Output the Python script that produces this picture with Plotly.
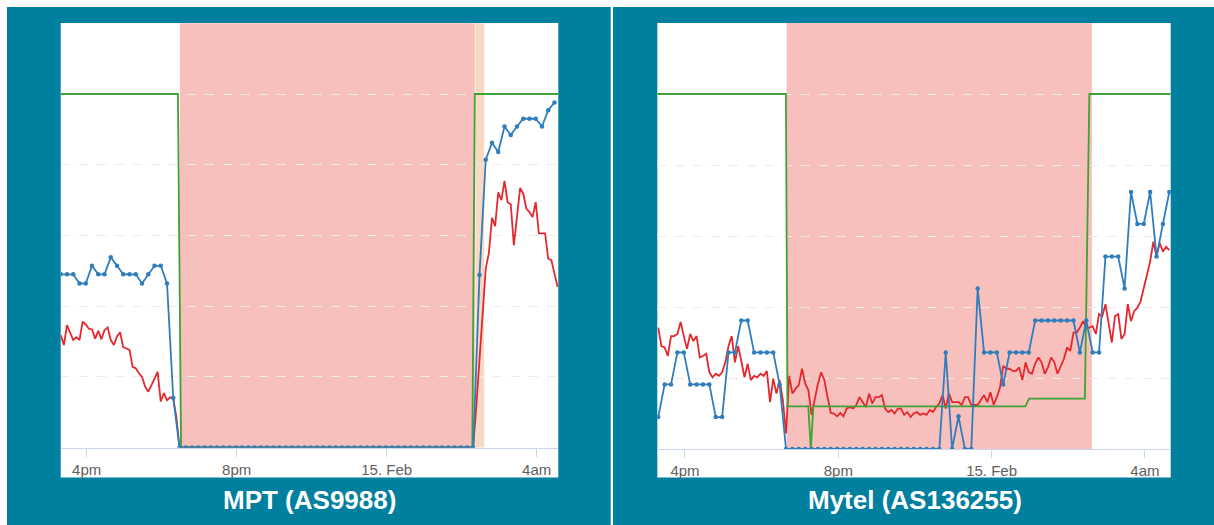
import plotly.graph_objects as go
import pandas as pd

W, H = 1214, 525

# ---------------- data ----------------
panel_titles = ["MPT (AS9988)", "Mytel (AS136255)"]
tick_times = ["2021-02-14 16:00", "2021-02-14 20:00", "2021-02-15 00:00", "2021-02-15 04:00"]
tick_labels = ["4pm", "8pm", "15. Feb", "4am"]

# --- MPT (AS9988) ---
mpt_range = ["2021-02-14 15:18:24", "2021-02-15 04:34:36"]
mpt_start = "2021-02-14 15:18:30"
mpt_probing = ([2.45, 2.45, 2.45, 2.32, 2.32, 2.57, 2.45, 2.45, 2.69, 2.57,
                2.45, 2.45, 2.45, 2.32, 2.45, 2.57, 2.57, 2.32, 0.70]
               + [0.0] * 48
               + [2.44, 4.07, 4.31, 4.18, 4.54, 4.42, 4.54, 4.65, 4.65, 4.65,
                  4.54, 4.77, 4.88])
mpt_darknet = ([1.59, 1.45, 1.73, 1.61, 1.52, 1.56, 1.52, 1.78, 1.74, 1.68,
                1.67, 1.54, 1.65, 1.53, 1.66, 1.70, 1.52, 1.45, 1.57, 1.63,
                1.42, 1.40, 1.38, 1.14, 1.12, 1.05, 1.00, 0.86, 0.79, 0.88,
                0.98, 1.07, 0.65, 0.77, 0.67, 0.71, 0.69, 0.43, 0.0]
               + [0.0] * 94
               + [0.60, 1.24, 1.85, 2.53, 2.75, 3.25, 3.13, 3.61, 3.50, 3.77,
                  3.47, 3.44, 2.86, 3.31, 3.67, 3.59, 3.38, 3.33, 3.26, 3.47,
                  3.03, 3.03, 3.03, 2.67, 2.65, 2.46, 2.27])
mpt_bgp_times = ["2021-02-14 15:18:24", "2021-02-14 18:26:00", "2021-02-14 18:31:00",
                 "2021-02-15 02:17:00", "2021-02-15 02:21:00", "2021-02-15 04:34:36"]
mpt_bgp = [5, 5, 0, 0, 5, 5]
mpt_outage = ["2021-02-14 18:29", "2021-02-15 02:21"]
mpt_warning = ["2021-02-15 02:22", "2021-02-15 02:36"]

# --- Mytel (AS136255) ---
mytel_range = ["2021-02-14 15:16:40", "2021-02-15 04:40:20"]
mytel_start = "2021-02-14 15:18:10"
mytel_probing = ([0.45, 0.91, 0.91, 1.36, 1.36, 0.91, 0.91, 0.91, 0.91, 0.45,
                  0.45, 1.36, 1.36, 1.81, 1.81, 1.36, 1.36, 1.36, 1.36, 0.91]
                 + [0.0] * 25
                 + [1.36, 0.0, 0.46, 0.0, 0.0, 2.26, 1.36, 1.36, 1.36, 0.91,
                    1.36, 1.36, 1.36, 1.36, 1.81, 1.81, 1.81, 1.81, 1.81, 1.81,
                    1.81, 1.36, 1.81, 1.36, 1.36, 2.71, 2.71, 2.71, 2.26, 3.62,
                    3.17, 3.17, 3.62, 2.71, 3.17, 3.62])
mytel_darknet = [1.71, 1.45, 1.43, 1.31, 1.59, 1.59, 1.62, 1.79, 1.59, 1.41,
                 1.62, 1.52, 1.59, 1.29, 1.31, 1.34, 1.08, 1.01, 1.06, 1.03,
                 1.08, 1.22, 1.45, 1.59, 1.22, 1.45, 1.24, 1.01, 1.20, 0.97,
                 1.03, 1.01, 1.06, 1.03, 1.10, 0.66, 0.99, 0.78, 0.97, 0.69,
                 0.22, 1.03, 0.78, 0.85, 0.90, 1.13, 0.92, 0.83, 0.48, 0.69,
                 0.92, 1.08, 0.97, 0.73, 0.51, 0.50, 0.46, 0.51, 0.46, 0.57,
                 0.59, 0.57, 0.62, 0.73, 0.66, 0.59, 0.78, 0.64, 0.73, 0.73,
                 0.76, 0.57, 0.52, 0.55, 0.50, 0.57, 0.57, 0.48, 0.52, 0.45,
                 0.50, 0.52, 0.48, 0.50, 0.48,
                 0.55, 0.52, 0.59, 0.64, 0.76, 0.57, 0.78, 0.66, 0.66, 0.66,
                 0.62, 0.73, 0.73, 0.62, 0.62, 0.62, 0.69, 0.76, 0.66, 0.80,
                 0.62, 0.73, 0.87, 1.17, 1.13, 1.13, 1.10, 1.10, 1.15, 0.97,
                 1.22, 1.08, 1.06, 1.20, 1.29, 1.22, 1.06, 1.15, 1.29, 1.22,
                 1.06, 1.17, 1.27, 1.43, 1.38, 1.64, 1.64, 1.71, 1.80, 1.71,
                 1.71, 1.73, 1.62, 1.90, 1.87, 2.04, 1.76, 1.50, 1.87, 1.90,
                 1.55, 1.62, 2.04, 1.80, 1.94, 1.99, 2.08, 2.27, 2.46, 2.64,
                 2.92, 2.71, 2.90, 2.78, 2.85, 2.80]
mytel_bgp_times = ["2021-02-14 15:16:40", "2021-02-14 18:38:00", "2021-02-14 18:40:30",
                   "2021-02-14 19:13:00", "2021-02-14 19:17:00", "2021-02-14 19:21:00",
                   "2021-02-15 00:53:00", "2021-02-15 00:58:30", "2021-02-15 02:26:00",
                   "2021-02-15 02:33:00", "2021-02-15 04:40:20"]
mytel_bgp = [5, 5, 0.6, 0.6, 0, 0.6, 0.6, 0.71, 0.71, 5, 5]
mytel_outage = ["2021-02-14 18:39", "2021-02-15 02:37"]

# ---------------- style ----------------
TEAL = "#007f9f"
BLUE = "#2f7dbd"
RED = "#e5282e"
GREEN = "#3ea234"
PINK = "#f8c0bc"
PEACH = "#f9d8c4"


def px_x(p):
    return p / W


def px_y(p):
    return 1 - p / H


panels = [
    dict(title=panel_titles[0], rng=mpt_range, start=mpt_start, probing=mpt_probing,
         darknet=mpt_darknet, bgp_t=mpt_bgp_times, bgp=mpt_bgp,
         outages=[(mpt_outage, PINK), (mpt_warning, PEACH)],
         xdom=[px_x(60.7), px_x(558.3)], ydom=[px_y(447.5), px_y(23.3)],
         teal=(7, 610.7), white=(60.7, 558.3), tcx=309),
    dict(title=panel_titles[1], rng=mytel_range, start=mytel_start, probing=mytel_probing,
         darknet=mytel_darknet, bgp_t=mytel_bgp_times, bgp=mytel_bgp,
         outages=[(mytel_outage, PINK)],
         xdom=[px_x(657.3), px_x(1170.7)], ydom=[px_y(449), px_y(23)],
         teal=(613, 1214), white=(657.3, 1170.7), tcx=915),
]

fig = go.Figure()
shapes = []
annotations = []
layout = dict(width=W, height=H, autosize=False, margin=dict(l=0, r=0, t=0, b=0),
              paper_bgcolor="white", plot_bgcolor="white", showlegend=False)

for i, p in enumerate(panels):
    sfx = "" if i == 0 else str(i + 1)
    xa, ya = "x" + sfx, "y" + sfx
    t_dark = pd.date_range(p["start"], periods=len(p["darknet"]), freq="5min")
    t_prob = pd.date_range(p["start"], periods=len(p["probing"]), freq="10min")
    t_bgp = pd.to_datetime(p["bgp_t"], format="mixed")

    fig.add_trace(go.Scatter(x=t_dark, y=p["darknet"], mode="lines",
                             line=dict(color=RED, width=1.8), xaxis=xa, yaxis=ya,
                             hoverinfo="skip"))
    fig.add_trace(go.Scatter(x=t_bgp, y=p["bgp"], mode="lines",
                             line=dict(color=GREEN, width=1.8), xaxis=xa, yaxis=ya,
                             hoverinfo="skip"))
    fig.add_trace(go.Scatter(x=t_prob, y=p["probing"], mode="lines+markers",
                             line=dict(color=BLUE, width=1.8),
                             marker=dict(color=BLUE, size=4.5), xaxis=xa, yaxis=ya,
                             hoverinfo="skip"))

    layout["xaxis" + sfx] = dict(
        domain=p["xdom"], anchor=ya, type="date", range=p["rng"],
        tickmode="array", tickvals=tick_times, ticktext=tick_labels,
        ticks="outside", ticklen=8, tickcolor="#ccd6eb", tickwidth=1,
        showline=True, linecolor="#ccd6eb", linewidth=1,
        showgrid=False, zeroline=False,
        tickfont=dict(family="Liberation Sans, Arial, sans-serif", size=15, color="#606060"),
        fixedrange=True)
    layout["yaxis" + sfx] = dict(
        domain=p["ydom"], anchor=xa, range=[0, 6],
        tickmode="array", tickvals=[1, 2, 3, 4, 5], showticklabels=False,
        showgrid=True, gridcolor="#ebebeb", gridwidth=1, griddash="dash",
        zeroline=False, showline=False, fixedrange=True)

    # teal panel
    shapes.append(dict(type="rect", xref="paper", yref="paper",
                       x0=px_x(p["teal"][0]), x1=px_x(p["teal"][1]),
                       y0=0, y1=px_y(7), fillcolor=TEAL, line=dict(width=0),
                       layer="below"))
    # white chart area (incl. tick label band)
    shapes.append(dict(type="rect", xref="paper", yref="paper",
                       x0=px_x(p["white"][0]), x1=px_x(p["white"][1]),
                       y0=px_y(477.5), y1=px_y(23), fillcolor="white",
                       line=dict(width=0), layer="below"))
    # outage shading
    for (o, col) in p["outages"]:
        shapes.append(dict(type="rect", xref=xa, yref=ya + " domain",
                           x0=o[0], x1=o[1], y0=0, y1=1, fillcolor=col,
                           line=dict(width=0), layer="below"))
    annotations.append(dict(text="<b>" + p["title"] + "</b>", xref="paper", yref="paper",
                            x=px_x(p["tcx"]), y=px_y(500), xanchor="center", yanchor="middle",
                            showarrow=False,
                            font=dict(family="Liberation Sans, Arial, sans-serif",
                                      size=26, color="white")))

layout["shapes"] = shapes
layout["annotations"] = annotations
fig.update_layout(**layout)

fig.write_html("out.html", config={"displayModeBar": False},
               post_script="document.body.style.margin='0';document.body.style.overflow='hidden';")
